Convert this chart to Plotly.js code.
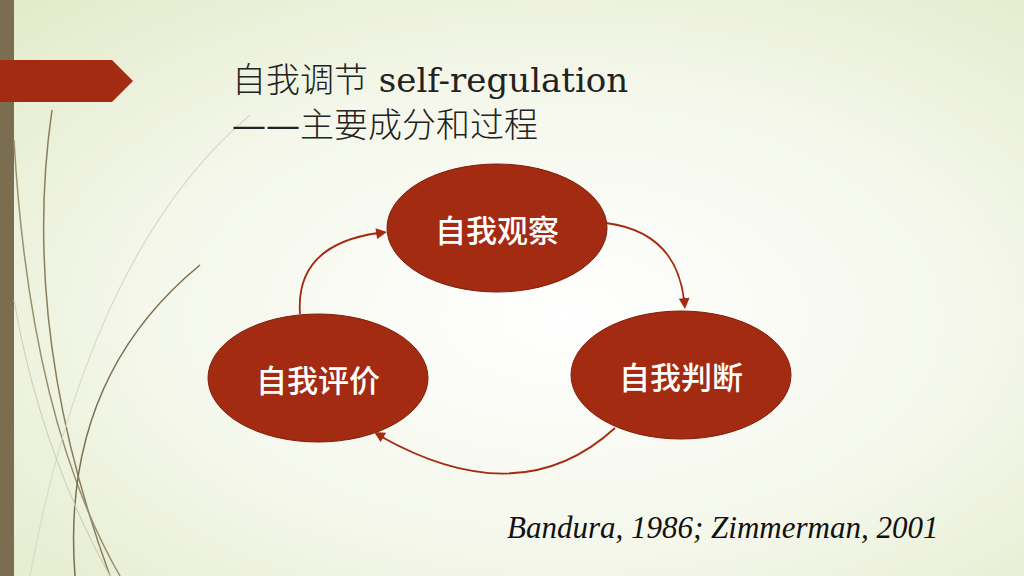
<!DOCTYPE html>
<html>
<head>
<meta charset="utf-8">
<script src="https://cdn.plot.ly/plotly-3.0.1.min.js"></script>
<style>html,body{margin:0;padding:0;overflow:hidden}#slide{width:1024px;height:576px}</style>
</head>
<body>
<div id="slide"></div>
<script>
// diagram content
const titleLines = ['自我调节 self-regulation', '——主要成分和过程'];
const nodeLabels = ['自我观察', '自我判断', '自我评价'];
const nodeX = [497, 681, 318];
const nodeY = [228, 375, 378];
const citation = 'Bandura, 1986; Zimmerman, 2001';

const red = '#a32b12';
const bgSvg = '<svg xmlns="http://www.w3.org/2000/svg" width="1024" height="576">' +
  '<defs><radialGradient id="g" cx="0.55" cy="0.55" r="0.75">' +
  '<stop offset="0" stop-color="#ffffff"/><stop offset="0.55" stop-color="#f4f7ea"/>' +
  '<stop offset="1" stop-color="#e3ebcb"/></radialGradient></defs>' +
  '<rect width="1024" height="576" fill="url(#g)"/></svg>';

const shapes = [
  {type: 'rect', x0: 0, x1: 14, y0: 0, y1: 576, fillcolor: '#7b6d4f', line: {width: 0}},
  {type: 'path', path: 'M 0 60 L 112 60 L 133 81 L 112 102 L 0 102 Z', fillcolor: red, line: {width: 0}},
  // decorative stems
  {type: 'path', path: 'M 52 110 Q 20 330 110 576', line: {color: '#8a7e5c', width: 1.5}},
  {type: 'path', path: 'M 14 140 Q 30 420 120 576', line: {color: '#9a9070', width: 1.5}},
  {type: 'path', path: 'M 200 265 Q 60 380 75 576', line: {color: '#7a6f50', width: 1.5}},
  {type: 'path', path: 'M 250 115 Q 90 250 30 576', line: {color: '#d8dcc4', width: 1.2}},
  {type: 'path', path: 'M 14 300 Q 40 450 110 576', line: {color: '#cdd3b4', width: 1.2}},
  // cycle arrows
  {type: 'path', path: 'M 606 223 Q 676 232 684 300', line: {color: red, width: 1.8}},
  {type: 'path', path: 'M 615 428 Q 520 515 380 436', line: {color: red, width: 1.8}},
  {type: 'path', path: 'M 300 314 Q 295 245 378 233', line: {color: red, width: 1.8}}
];
nodeLabels.forEach((_, i) => shapes.push({
  type: 'circle', x0: nodeX[i] - 110, x1: nodeX[i] + 110, y0: nodeY[i] - 64, y1: nodeY[i] + 64,
  fillcolor: red, line: {color: '#7e1f0c', width: 1}
}));

const titleFont = {size: 34, color: '#222', family: 'DejaVu Serif, Noto Sans CJK SC', weight: 300};
const annotations = [
  {x: 230, y: 80, text: titleLines[0], xanchor: 'left', font: titleFont},
  {x: 230, y: 125, text: titleLines[1], xanchor: 'left', font: titleFont},
  {x: 940, y: 527, text: citation, xanchor: 'right', font: {size: 31, color: '#111', family: 'Liberation Serif', style: 'italic'}},
  {x: 685, y: 309, ax: 684, ay: 296, axref: 'x', ayref: 'y', text: '', showarrow: true, arrowhead: 2, arrowsize: 1.2, arrowwidth: 1.8, arrowcolor: red},
  {x: 374, y: 432, ax: 386, ay: 439, axref: 'x', ayref: 'y', text: '', showarrow: true, arrowhead: 2, arrowsize: 1.2, arrowwidth: 1.8, arrowcolor: red},
  {x: 387, y: 232, ax: 374, ay: 234, axref: 'x', ayref: 'y', text: '', showarrow: true, arrowhead: 2, arrowsize: 1.2, arrowwidth: 1.8, arrowcolor: red}
];
nodeLabels.forEach((t, i) => annotations.push({
  x: nodeX[i], y: nodeY[i], text: t, showarrow: false,
  font: {size: 31, color: '#ffffff', family: 'Noto Sans CJK SC', weight: 500}
}));
annotations.forEach(a => { if (a.showarrow === undefined) a.showarrow = false; });

const layout = {
  width: 1024, height: 576,
  margin: {l: 0, r: 0, t: 0, b: 0},
  paper_bgcolor: '#f4f7ea', plot_bgcolor: 'rgba(0,0,0,0)',
  xaxis: {range: [0, 1024], visible: false, fixedrange: true},
  yaxis: {range: [576, 0], visible: false, fixedrange: true},
  images: [{source: 'data:image/svg+xml;base64,' + btoa(bgSvg), xref: 'x', yref: 'y',
    x: 0, y: 0, sizex: 1024, sizey: 576, sizing: 'stretch', layer: 'below'}],
  shapes: shapes,
  annotations: annotations,
  showlegend: false
};

Plotly.newPlot('slide', [], layout, {staticPlot: true});
</script>
</body>
</html>
